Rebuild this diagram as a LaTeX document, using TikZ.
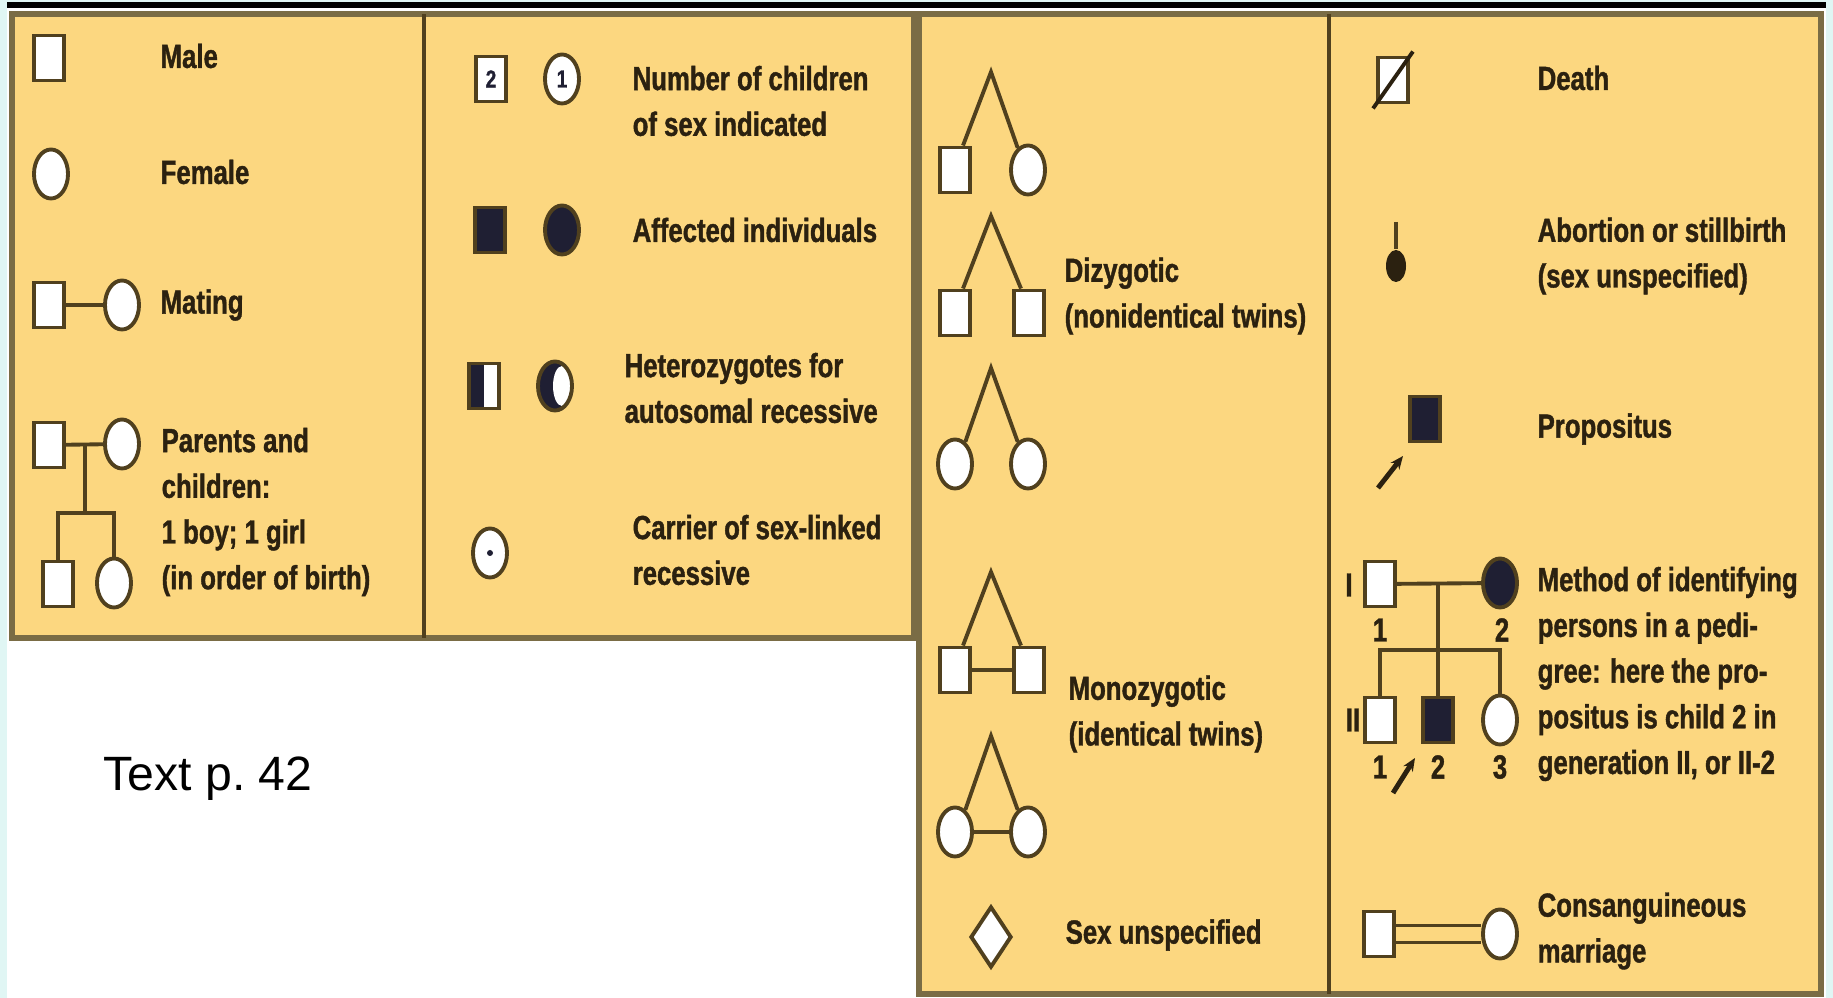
\documentclass[tikz,border=0pt]{standalone}
\usepackage{fontspec}
\setmainfont{Liberation Sans}
\newfontfamily\keyfont[FakeStretch=0.77,FakeBold=1.2]{Liberation Sans}
\definecolor{keygold}{RGB}{252,215,128}
\definecolor{keyframe}{RGB}{122,108,69}
\definecolor{keyline}{RGB}{80,64,30}
\definecolor{keyink}{RGB}{43,33,16}
\definecolor{keydark}{RGB}{31,31,51}
\definecolor{keycyan}{RGB}{224,246,244}
\usetikzlibrary{arrows.meta,positioning,shapes.geometric}

\begin{document}
\begin{tikzpicture}[x=0.01cm,y=-0.01cm,
  male/.style={draw=keyline,line width=1.1pt,fill=white,rectangle,minimum width=0.30cm,minimum height=0.45cm,inner sep=0},
  female/.style={draw=keyline,line width=1.1pt,fill=white,ellipse,minimum width=0.34cm,minimum height=0.49cm,inner sep=0},
  aff/.style={fill=keydark},
  num/.style={text=keydark,font={\fontsize{7}{7}\keyfont\bfseries}},
  txt/.style={anchor=west,align=left,inner sep=0,text=keyink,font={\fontsize{9.5}{13}\keyfont\bfseries}},
  ln/.style={draw=keyline,line width=1.1pt},
  proband/.style={draw=keyink,line width=1.4pt,-{Stealth[length=0.13cm,width=0.11cm]}},
  panel/.style={fill=keygold,draw=keyframe,line width=0.06cm}]
  \useasboundingbox (0,0) rectangle (1833,998);
  \fill[white] (0,0) rectangle (1833,998);
  \fill[keycyan] (0,0) rectangle (7,998);
  \fill[keycyan] (0,0) rectangle (1833,3);
  \fill[keycyan] (1826,0) rectangle (1833,998);
  \fill[black] (7,2) rectangle (1826,8);
  \draw[panel] (12,14) rectangle (914,638);
  \draw[keyline,line width=0.04cm] (424,14) -- (424,638);
  \draw[panel] (919,14) rectangle (1821,994);
  \draw[keyline,line width=0.04cm] (1329,14) -- (1329,994);

  \node[male] (male) at (49,58) {};
  \node[txt] (maletxt) at (160,56) {Male};
  \node[female] (fem) at (51,174) {};
  \node[txt] (femtxt) at (160,172) {Female};
  \node[male] (matem) at (49,305) {};
  \node[female] (matef) at (122,305) {};
  \draw[ln] (matem) -- (matef);
  \node[txt] (matetxt) at (160,305) {Mating};
  \node[male] (parm) at (49,445) {};
  \node[female] (parf) at (122,444) {};
  \node[male] (kidm) at (58,584) {};
  \node[female] (kidf) at (114,583) {};
  \coordinate (pardrop) at (85,445);
  \coordinate (kidline) at (85,513);
  \draw[ln] (parm) -- (parf);
  \draw[ln] (pardrop) -- (kidline);
  \draw[ln] (kidm.north) |- (kidline) -| (kidf.north);
  \node[txt] (partxt) at (161,512) {Parents and\\children:\\1 boy; 1 girl\\(in order of birth)};

  \node[male,num] (nmale) at (491,79) {2};
  \node[female,num] (nfem) at (562,79) {1};
  \node[txt] (ntxt) at (632,101) {Number of children\\of sex indicated};
  \node[male,aff] (affm) at (490,230) {};
  \node[female,aff] (afff) at (562,230) {};
  \node[txt] (afftxt) at (632,230) {Affected individuals};
  \node[male,path picture={\fill[keydark] (path picture bounding box.south west) rectangle (path picture bounding box.north);}] (hetm) at (484,386) {};
  \node[female,path picture={\fill[keydark] (path picture bounding box.south west) rectangle (path picture bounding box.north east);
    \fill[white] ([xshift=0.07cm]path picture bounding box.center) ellipse (0.09cm and 0.2cm);}] (hetf) at (555,386) {};
  \node[txt] (hettxt) at (624,388) {Heterozygotes for\\autosomal recessive};
  \node[female,path picture={\fill[keydark] (path picture bounding box.center) circle (0.03cm);}] (carf) at (490,553) {};
  \node[txt] (cartxt) at (632,550) {Carrier of sex-linked\\recessive};

  \coordinate (dzone) at (991,72);
  \node[male] (dzonem) at (955,170) {};
  \node[female] (dzonef) at (1028,170) {};
  \draw[ln] ([xshift=0.08cm]dzonem.north) -- (dzone) -- (dzonef.115);
  \coordinate (dztwo) at (991,216);
  \node[male] (dztwoa) at (955,313) {};
  \node[male] (dztwob) at (1029,313) {};
  \draw[ln] ([xshift=0.08cm]dztwoa.north) -- (dztwo) -- ([xshift=-0.08cm]dztwob.north);
  \coordinate (dzthree) at (991,368);
  \node[female] (dzthreea) at (955,464) {};
  \node[female] (dzthreeb) at (1028,464) {};
  \draw[ln] (dzthreea.65) -- (dzthree) -- (dzthreeb.115);
  \node[txt] (dztxt) at (1064,296) {Dizygotic\\(nonidentical twins)};
  \coordinate (mzone) at (991,572);
  \node[male] (mzonea) at (955,670) {};
  \node[male] (mzoneb) at (1029,670) {};
  \draw[ln] ([xshift=0.08cm]mzonea.north) -- (mzone) -- ([xshift=-0.08cm]mzoneb.north);
  \draw[ln] (mzonea) -- (mzoneb);
  \coordinate (mztwo) at (991,736);
  \node[female] (mztwoa) at (955,832) {};
  \node[female] (mztwob) at (1028,832) {};
  \draw[ln] (mztwoa.65) -- (mztwo) -- (mztwob.115);
  \draw[ln] (mztwoa) -- (mztwob);
  \node[txt] (mztxt) at (1068,714) {Monozygotic\\(identical twins)};
  \node[diamond,draw=keyline,line width=1.1pt,fill=white,minimum width=0.41cm,minimum height=0.61cm,inner sep=0] (sexu) at (991,937) {};
  \node[txt] (sexutxt) at (1065,935) {Sex unspecified};

  \node[male] (death) at (1393,80) {};
  \draw[keyink,line width=1.1pt] ([shift={(-3,4)}]death.south west) -- ([shift={(3,-4)}]death.north east);
  \node[txt] (deathtxt) at (1537,78) {Death};
  \coordinate (abtop) at (1396,222);
  \node[ellipse,fill=keyink,minimum width=0.2cm,minimum height=0.32cm,inner sep=0] (abort) at (1396,266) {};
  \draw[ln] (abtop) -- (abort.north);
  \node[txt] (aborttxt) at (1537,256) {Abortion or stillbirth\\(sex unspecified)};
  \node[male,aff] (prop) at (1425,419) {};
  \coordinate (proptail) at (1378,488);
  \coordinate (prophead) at (1403,456);
  \draw[proband] (proptail) -- (prophead);
  \node[txt] (proptxt) at (1537,429) {Propositus};

  \node[male] (gi1) at (1380,584) {};
  \node[female,aff] (gi2) at (1500,583) {};
  \node[male] (gii1) at (1380,720) {};
  \node[male,aff] (gii2) at (1438,720) {};
  \node[female] (gii3) at (1500,720) {};
  \draw[ln] (gi1) -- (gi2);
  \coordinate (gdrop) at (1438,584);
  \coordinate (gsibl) at (1380,650);
  \coordinate (gsibr) at (1500,650);
  \draw[ln] (gdrop) -- (gii2.north);
  \draw[ln] (gii1.north) -- (gsibl) -- (gsibr) -- (gii3.north);
  \node[txt,anchor=center] (geni) at (1349,585) {I};
  \node[txt,anchor=center] (genii) at (1353,720) {II};
  \node[txt,anchor=center] (ni1) at (1380,630) {1};
  \node[txt,anchor=center] (ni2) at (1502,630) {2};
  \node[txt,anchor=center] (nii1) at (1380,767) {1};
  \node[txt,anchor=center] (nii2) at (1438,767) {2};
  \node[txt,anchor=center] (nii3) at (1500,767) {3};
  \coordinate (gtail) at (1393,793);
  \coordinate (ghead) at (1415,758);
  \draw[proband] (gtail) -- (ghead);
  \node[txt] (gtxt) at (1537,674) {Method of identifying\\persons in a pedi-\\gree: here the pro-\\positus is child 2 in\\generation II, or II-2};

  \node[male] (consm) at (1379,934) {};
  \node[female] (consf) at (1500,934) {};
  \draw[ln] ([yshift=0.085cm]consm.east) -- ([yshift=0.085cm]consf.west);
  \draw[ln] ([yshift=-0.085cm]consm.east) -- ([yshift=-0.085cm]consf.west);
  \node[txt] (constxt) at (1537,931) {Consanguineous\\marriage};

  \node[anchor=base west,inner sep=0,font={\fontsize{13.7}{16}\selectfont}] (page) at (103,791) {Text p.~42};
\end{tikzpicture}
\end{document}
